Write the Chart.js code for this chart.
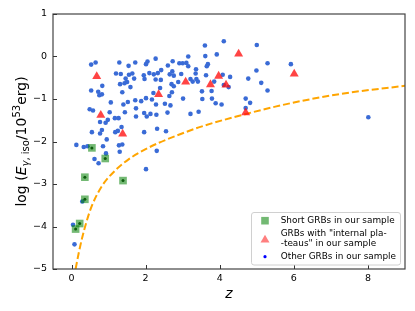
<!DOCTYPE html>
<html>
<head>
<meta charset="utf-8">
<script src="https://cdn.jsdelivr.net/npm/chart.js@4/dist/chart.umd.min.js"></script>
<style>
  html, body { margin: 0; padding: 0; background: #fff; }
  canvas { display: block; }
</style>
</head>
<body>
<canvas id="myChart" width="415" height="311"></canvas>
<script>
// other GRBs (redshift z, log E_iso / 1e53 erg)
const blueZ = [0.04,0.08,0.13,0.29,0.33,0.43,0.49,0.58,0.53,0.65,
  0.53,0.72,0.75,0.82,0.83,0.55,0.62,0.73,0.77,0.82,
  0.77,0.92,0.98,0.85,0.95,0.93,1.03,1.06,1.17,1.27,
  1.18,1.25,1.35,1.30,1.28,1.37,1.20,1.33,1.29,1.46,
  1.31,1.43,1.50,1.59,1.37,1.40,1.52,1.44,1.54,1.55,
  1.64,1.69,1.72,1.72,1.74,1.74,1.88,1.95,1.97,2.05,
  2.01,2.10,2.22,2.33,2.42,2.27,2.27,2.41,1.96,2.13,
  2.03,2.29,2.59,2.01,2.17,2.28,2.52,2.39,2.21,2.64,
  2.71,2.67,1.96,2.31,2.55,2.30,2.01,2.60,2.73,2.91,
  3.00,3.10,3.15,3.15,2.72,2.65,2.76,2.96,3.36,3.35,
  3.37,3.27,3.21,3.41,2.88,2.70,2.76,3.01,3.21,3.43,
  3.52,3.53,3.60,3.61,3.68,3.65,3.63,3.78,3.79,3.89,
  4.05,3.92,4.11,4.08,4.28,3.85,4.11,4.24,4.70,4.82,
  4.70,4.77,5.00,4.99,5.12,5.29,5.29,5.92,8.01];
const blueY = [-3.96,-4.42,-2.08,-3.41,-2.13,-2.11,-1.24,-1.27,-0.19,-0.14,
  -0.80,-0.83,-0.91,-0.89,-0.69,-1.78,-2.41,-2.51,-1.81,-1.73,
  -1.54,-1.56,-1.49,-2.11,-1.95,-2.28,-1.31,-1.08,-1.45,-1.45,
  -1.78,-1.75,-1.66,-2.24,-2.09,-2.07,-0.40,-0.41,-0.14,-0.52,
  -0.65,-0.63,-0.60,-0.72,-0.84,-1.13,-1.07,-1.31,-0.22,-0.43,
  -0.40,-0.52,-0.14,-1.03,-1.22,-1.41,-1.05,-0.44,-0.53,-0.12,
  -0.18,-0.39,-0.42,-0.39,-0.32,-0.05,-0.54,-0.55,-1.33,-1.35,
  -1.41,-1.37,-1.32,-0.98,-1.01,-1.13,-1.11,-0.74,-0.86,-0.93,
  -0.84,-1.15,-1.78,-1.70,-1.76,-2.22,-2.65,-0.21,-0.11,-0.16,
  -0.16,-0.15,-0.23,0.00,-0.35,-0.42,-0.45,-0.41,-0.30,-0.40,
  -0.53,-0.59,-0.53,-0.59,-0.60,-0.65,-0.70,-0.99,-1.35,-1.30,
  -0.82,-1.00,0.26,0.01,-0.18,-0.23,-0.44,-0.81,-0.99,-1.10,
  -1.13,0.05,0.36,-0.43,-0.48,-0.59,-0.67,-0.72,-0.99,-1.09,
  -1.21,-0.52,0.27,-0.33,-0.62,-0.16,-0.80,-0.18,-1.43];

// GRBs with internal plateaus
const plateauZ = [0.68,0.79,1.38,2.35,3.08,3.75,3.97,4.17,4.51,4.70,6.01];
const plateauY = [-0.47,-1.38,-1.82,-0.89,-0.60,-0.66,-0.46,-0.67,0.06,-1.32,-0.41];

// short GRBs
const shortZ = [0.55,0.91,0.36,1.39,0.36,0.22,0.11];
const shortY = [-2.15,-2.40,-2.84,-2.92,-3.36,-3.93,-4.06];

// detection limit curve
const curveZ = [0.11,0.2,0.28,0.4,0.55,0.82,1.18,1.54,2.0,2.36,2.81,3.5,4.5,5.5,6.42,7.5,9.0];
const curveY = [-5.0,-4.6,-4.29,-3.9,-3.51,-3.05,-2.68,-2.42,-2.18,-2.03,-1.87,-1.65,-1.40,-1.18,-1.01,-0.85,-0.69];

const xTicks = [0,2,4,6,8];
const yTicks = [-5,-4,-3,-2,-1,0,1];

const legendLabels = ['Short GRBs in our sample', 'GRBs with "internal pla-', '-teaus" in our sample', 'Other GRBs in our sample'];

function pts(xs, ys){ return xs.map((v,i)=>({x:v, y:ys[i]})); }

const FONT = "'DejaVu Sans', sans-serif";

function line(ctx,x1,y1,x2,y2){ ctx.beginPath(); ctx.moveTo(x1,y1); ctx.lineTo(x2,y2); ctx.stroke(); }

const overlay = {
  id: 'overlay',
  afterDraw(chart){
    const ctx = chart.ctx;
    const a = chart.chartArea;
    const xs = chart.scales.x, ys = chart.scales.y;
    ctx.save();

    // frame
    ctx.strokeStyle = '#444'; ctx.lineWidth = 1.2;
    ctx.strokeRect(a.left, a.top, a.right - a.left, a.bottom - a.top);

    // inward ticks
    ctx.lineWidth = 1; ctx.strokeStyle = '#333';
    xTicks.forEach(v=>{ const p = Math.round(xs.getPixelForValue(v)) + 0.5; line(ctx,p,a.bottom,p,a.bottom-4); });
    yTicks.forEach(v=>{ const p = Math.round(ys.getPixelForValue(v)) + 0.5; line(ctx,a.left,p,a.left+4,p); });

    // x title
    ctx.fillStyle = '#000';
    ctx.font = 'italic 14px ' + FONT;
    ctx.textAlign = 'center'; ctx.textBaseline = 'alphabetic';
    ctx.fillText('z', (a.left + a.right)/2, 297.5);

    // y title with sub/superscripts
    const segs = [
      {t:'log (', f:'14px ' + FONT, dy:0},
      {t:'E', f:'italic 14px ' + FONT, dy:0},
      {t:'\u03b3', f:'italic 10px ' + FONT, dy:3},
      {t:', iso', f:'10px ' + FONT, dy:3},
      {t:'/10', f:'14px ' + FONT, dy:0},
      {t:'53', f:'10px ' + FONT, dy:-6},
      {t:'erg)', f:'14px ' + FONT, dy:0}
    ];
    let total = 0;
    segs.forEach(s=>{ ctx.font = s.f; s.w = ctx.measureText(s.t).width; total += s.w; });
    ctx.translate(21, (a.top + a.bottom)/2);
    ctx.rotate(-Math.PI/2);
    ctx.textAlign = 'left';
    let cx = -total/2;
    segs.forEach(s=>{ ctx.font = s.f; ctx.fillText(s.t, cx, 5 + s.dy); cx += s.w; });
    ctx.setTransform(1,0,0,1,0,0);

    // legend
    const lx = 251.5, ly = 212.5, lw = 149, lh = 52.5;
    ctx.fillStyle = 'rgba(255,255,255,0.85)';
    ctx.strokeStyle = '#d0d0d0'; ctx.lineWidth = 1;
    ctx.beginPath();
    ctx.roundRect(lx, ly, lw, lh, 2.5);
    ctx.fill(); ctx.stroke();

    // markers
    ctx.fillStyle = 'rgba(0,128,0,0.55)';
    ctx.fillRect(265-3.8, 220.7-3.8, 7.6, 7.6);
    ctx.fillStyle = 'rgba(255,0,0,0.5)';
    ctx.beginPath(); ctx.moveTo(265, 234.8); ctx.lineTo(269.5, 242.6); ctx.lineTo(260.5, 242.6); ctx.closePath(); ctx.fill();
    ctx.fillStyle = '#0000ff';
    ctx.beginPath(); ctx.arc(265, 256.7, 1.6, 0, Math.PI*2); ctx.fill();

    ctx.fillStyle = '#000';
    ctx.font = '8.9px ' + FONT;
    ctx.textBaseline = 'middle'; ctx.textAlign = 'left';
    ctx.fillText(legendLabels[0], 280.7, 220.7);
    ctx.fillText(legendLabels[1], 280.7, 233.5);
    ctx.fillText(legendLabels[2], 280.7, 243.5);
    ctx.fillText(legendLabels[3], 280.7, 256.7);

    ctx.restore();
  }
};

const ctx = document.getElementById('myChart').getContext('2d');
const chart = new Chart(ctx, {
  type: 'scatter',
  data: {
    datasets: [
      {
        label: 'short centre',
        data: pts(shortZ, shortY),
        pointRadius: 1.5, pointHoverRadius: 1.5,
        backgroundColor: '#0d5c0d', borderWidth: 0
      },
      {
        label: 'Short GRBs in our sample',
        data: pts(shortZ, shortY),
        pointStyle: 'rect', pointRadius: 5.4,
        backgroundColor: 'rgba(0,128,0,0.55)', borderWidth: 0
      },
      {
        label: 'GRBs with internal plateaus',
        data: pts(plateauZ, plateauY),
        pointStyle: 'triangle', pointRadius: 5.2,
        backgroundColor: 'rgba(255,15,15,0.78)', borderWidth: 0
      },
      {
        label: 'Other GRBs in our sample',
        data: pts(blueZ, blueY),
        pointRadius: 2.3,
        backgroundColor: '#3a6bd6', borderWidth: 0
      },
      {
        label: 'limit',
        data: pts(curveZ, curveY),
        showLine: true,
        borderColor: '#ffa500', borderWidth: 2,
        borderDash: [7, 3],
        cubicInterpolationMode: 'monotone',
        pointRadius: 0
      }
    ]
  },
  options: {
    responsive: false,
    animation: false,
    devicePixelRatio: 1,
    layout: { padding: { top: 14, right: 10, left: 0, bottom: 0 } },
    plugins: { legend: { display: false }, tooltip: { enabled: false } },
    scales: {
      x: {
        type: 'linear', min: -0.5, max: 9,
        afterBuildTicks: s => { s.ticks = xTicks.map(v=>({value:v})); },
        afterFit: s => { s.height = 42; },
        grid: { display: false, drawTicks: false },
        border: { display: false },
        ticks: { padding: 4, color: '#000', font: { family: FONT, size: 9.5 }, maxRotation: 0 }
      },
      y: {
        type: 'linear', min: -5, max: 1,
        afterBuildTicks: s => { s.ticks = yTicks.map(v=>({value:v})); },
        afterFit: s => { s.width = 53; },
        grid: { display: false, drawTicks: false },
        border: { display: false },
        ticks: {
          padding: 6, color: '#000', font: { family: FONT, size: 9.5 },
          callback: v => v < 0 ? '\u2212' + Math.abs(v) : String(v)
        }
      }
    }
  },
  plugins: [overlay]
});
</script>
</body>
</html>
